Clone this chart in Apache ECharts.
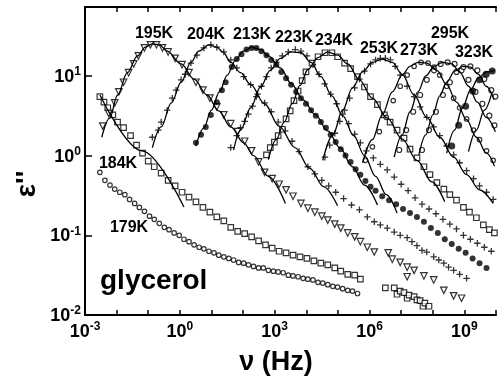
<!DOCTYPE html>
<html><head><meta charset="utf-8">
<script src="https://cdn.jsdelivr.net/npm/echarts@6/dist/echarts.min.js"></script>
<style>html,body{margin:0;padding:0;background:#fff}#c{width:499px;height:385px}</style>
</head><body><div id="c"></div>
<script>
// All values as [log10(nu / Hz), log10(eps'')]
const data179 = [[-2.53,-0.21],[-2.37,-0.31],[-2.21,-0.37],[-2.06,-0.42],[-1.90,-0.46],[-1.74,-0.49],[-1.59,-0.55],[-1.43,-0.60],[-1.28,-0.65],[-1.12,-0.70],[-0.96,-0.76],[-0.81,-0.80],[-0.65,-0.85],[-0.49,-0.90],[-0.34,-0.93],[-0.18,-0.97],[-0.02,-1.00],[0.13,-1.05],[0.29,-1.08],[0.45,-1.12],[0.61,-1.15],[0.76,-1.17],[0.92,-1.20],[1.08,-1.22],[1.23,-1.25],[1.39,-1.27],[1.55,-1.29],[1.70,-1.31],[1.86,-1.34],[2.02,-1.35],[2.17,-1.37],[2.33,-1.39],[2.49,-1.41],[2.64,-1.41],[2.80,-1.44],[2.96,-1.45],[3.11,-1.46],[3.27,-1.47],[3.43,-1.50],[3.58,-1.51],[3.74,-1.52],[3.90,-1.54],[4.05,-1.55],[4.21,-1.56],[4.37,-1.59],[4.52,-1.60],[4.68,-1.62],[4.84,-1.64],[4.99,-1.65],[5.15,-1.67],[5.31,-1.69],[5.46,-1.70],[5.62,-1.73]];

const data184 = [[-2.53,0.74],[-2.40,0.67],[-2.28,0.60],[-2.12,0.51],[-1.97,0.42],[-1.78,0.35],[-1.56,0.25],[-1.37,0.13],[-1.18,0.03],[-1.00,-0.07],[-0.81,-0.14],[-0.59,-0.22],[-0.37,-0.31],[-0.15,-0.38],[0.07,-0.46],[0.29,-0.52],[0.51,-0.58],[0.73,-0.65],[0.95,-0.71],[1.17,-0.77],[1.39,-0.82],[1.61,-0.90],[1.83,-0.95],[2.05,-0.98],[2.27,-1.02],[2.49,-1.07],[2.71,-1.12],[2.92,-1.16],[3.14,-1.20],[3.36,-1.22],[3.58,-1.25],[3.80,-1.27],[4.02,-1.29],[4.24,-1.32],[4.46,-1.35],[4.68,-1.37],[4.90,-1.41],[5.09,-1.45],[5.31,-1.49],[5.53,-1.50],[5.71,-1.55]];
const hf184 = [[6.50,-1.66],[6.78,-1.66],[6.87,-1.74],[6.97,-1.70],[7.09,-1.72],[7.19,-1.79],[7.25,-1.75],[7.41,-1.77],[7.50,-1.81],[7.60,-1.82],[7.69,-1.89],[7.75,-1.85],[7.88,-1.89]];
const fit184 = [[-2.53,0.76],[-1.20,0.06],[0.13,-0.645]];

const fit195 = [[-2.47,0.23],[-2.22,0.47],[-1.97,0.76],[-1.66,1.04],[-1.34,1.25],[-1.09,1.36],[-0.87,1.40],[-0.65,1.39],[-0.40,1.31],[0.04,1.15],[0.45,0.96],[0.86,0.76],[1.23,0.56],[1.61,0.36],[2.02,0.16],[2.33,0.00],[2.80,-0.26],[3.34,-0.60]];
const data195 = [[-2.44,0.37],[-2.25,0.53],[-2.06,0.66],[-1.93,0.80],[-1.78,0.92],[-1.62,1.04],[-1.46,1.15],[-1.31,1.25],[-1.12,1.35],[-0.93,1.39],[-0.74,1.39],[-0.55,1.35],[-0.37,1.30],[-0.15,1.22],[0.07,1.14],[0.29,1.04],[0.51,0.92],[0.73,0.82],[0.95,0.72],[1.17,0.61],[1.39,0.51],[1.61,0.40],[1.83,0.30],[2.05,0.18],[2.27,0.06],[2.49,-0.08],[2.68,-0.21],[2.92,-0.29],[3.14,-0.36],[3.36,-0.43],[3.58,-0.51],[3.83,-0.60],[4.05,-0.66],[4.27,-0.71],[4.49,-0.76],[4.68,-0.81],[4.90,-0.86],[5.09,-0.91],[5.31,-0.97],[5.53,-1.02],[5.71,-1.08],[5.93,-1.15],[6.15,-1.21]];
const hf195 = [[6.59,-1.22],[6.72,-1.30],[6.97,-1.34],[7.19,-1.40],[7.19,-1.52],[7.41,-1.44],[7.72,-1.51],[8.03,-1.56],[8.35,-1.69],[8.66,-1.76],[8.91,-1.79]];

const fit204 = [[-0.87,0.10],[-0.59,0.36],[-0.27,0.66],[0.04,0.92],[0.35,1.17],[0.60,1.31],[0.92,1.39],[1.17,1.36],[1.36,1.30],[1.61,1.17],[1.92,1.04],[2.24,0.89],[2.68,0.65],[3.14,0.37],[3.64,0.10],[4.11,-0.16],[4.55,-0.39],[4.99,-0.63]];
const data204 = [[-0.87,0.23],[-0.68,0.32],[-0.59,0.42],[-0.40,0.57],[-0.24,0.72],[-0.12,0.82],[0.04,0.95],[0.17,1.02],[0.35,1.16],[0.54,1.26],[0.76,1.35],[0.98,1.39],[1.17,1.36],[1.39,1.30],[1.61,1.20],[1.80,1.10],[2.02,0.99],[2.24,0.89],[2.46,0.77],[2.68,0.66],[2.89,0.55],[3.11,0.42],[3.33,0.31],[3.55,0.18],[3.77,0.05],[4.05,-0.14],[4.27,-0.23],[4.49,-0.31],[4.71,-0.38],[4.93,-0.46],[5.18,-0.54],[5.43,-0.62],[5.68,-0.68],[5.93,-0.77]];
const hf204 = [[6.15,-0.83],[6.34,-0.87],[6.56,-0.91],[6.78,-0.96],[6.97,-1.00],[7.19,-1.03],[7.34,-1.08],[7.50,-1.13],[7.66,-1.19],[7.81,-1.21],[8.03,-1.27],[8.19,-1.31],[8.35,-1.35],[8.50,-1.40],[8.66,-1.44],[8.85,-1.49],[9.07,-1.54]];

const fit213 = [[0.51,0.12],[0.75,0.34],[1.00,0.57],[1.25,0.80],[1.50,1.01],[1.75,1.19],[2.00,1.31],[2.28,1.36],[2.55,1.33],[2.80,1.25],[3.18,1.10],[3.53,0.90],[3.90,0.70],[4.27,0.52],[4.68,0.31],[5.06,0.10],[5.46,-0.14],[5.84,-0.37],[6.25,-0.62]];
const data213 = [[0.51,0.16],[0.67,0.26],[0.82,0.36],[0.98,0.51],[1.17,0.67],[1.33,0.82],[1.45,0.92],[1.64,1.11],[1.80,1.21],[1.95,1.27],[2.11,1.33],[2.27,1.35],[2.42,1.35],[2.58,1.31],[2.74,1.26],[2.89,1.20],[3.05,1.14],[3.21,1.05],[3.36,0.97],[3.52,0.89],[3.68,0.80],[3.83,0.72],[3.99,0.65],[4.15,0.57],[4.30,0.50],[4.46,0.42],[4.62,0.35],[4.77,0.26],[4.93,0.17],[5.09,0.08],[5.24,0.00],[5.40,-0.08],[5.56,-0.17],[5.71,-0.24],[5.87,-0.32],[6.03,-0.39],[6.19,-0.44],[6.40,-0.51],[6.62,-0.56],[6.84,-0.61],[7.06,-0.67],[7.28,-0.72],[7.50,-0.77],[7.72,-0.83],[7.94,-0.91],[8.16,-0.97],[8.38,-1.05],[8.60,-1.11],[8.82,-1.17],[9.04,-1.22],[9.26,-1.29],[9.48,-1.35],[9.70,-1.41]];

const fit223 = [[1.70,0.07],[1.92,0.32],[2.24,0.60],[2.55,0.86],[2.86,1.07],[3.18,1.22],[3.52,1.30],[3.83,1.29],[4.15,1.17],[4.46,0.99],[4.81,0.75],[5.15,0.50],[5.50,0.25],[5.84,0.00],[6.19,-0.26],[6.53,-0.49],[6.87,-0.72]];
const data223 = [[1.61,0.10],[1.80,0.25],[1.92,0.35],[2.05,0.43],[2.17,0.52],[2.30,0.62],[2.42,0.74],[2.58,0.87],[2.74,0.99],[2.89,1.10],[3.05,1.17],[3.24,1.25],[3.43,1.30],[3.65,1.33],[3.83,1.31],[4.02,1.25],[4.21,1.14],[4.40,1.02],[4.58,0.90],[4.77,0.77],[4.96,0.65],[5.15,0.52],[5.34,0.40],[5.53,0.27],[5.71,0.16],[5.90,0.06],[6.12,-0.03],[6.34,-0.11],[6.56,-0.18],[6.78,-0.27],[7.00,-0.36],[7.22,-0.44],[7.44,-0.53],[7.66,-0.61],[7.88,-0.67],[8.10,-0.73],[8.32,-0.80],[8.54,-0.86],[8.75,-0.92],[8.97,-1.00],[9.19,-1.05],[9.41,-1.10],[9.63,-1.15],[9.85,-1.20]];

const fit234 = [[2.80,-0.05],[3.05,0.20],[3.30,0.42],[3.55,0.65],[3.80,0.88],[4.05,1.08],[4.37,1.23],[4.68,1.30],[4.99,1.26],[5.31,1.15],[5.68,0.95],[6.09,0.72],[6.56,0.47],[7.03,0.21],[7.50,-0.06],[7.97,-0.33],[8.38,-0.58]];
const data234 = [[2.74,0.01],[2.86,0.10],[2.99,0.17],[3.11,0.25],[3.24,0.33],[3.36,0.46],[3.49,0.56],[3.61,0.69],[3.74,0.81],[3.87,0.94],[3.99,1.05],[4.18,1.16],[4.37,1.24],[4.59,1.29],[4.81,1.29],[4.99,1.24],[5.21,1.16],[5.40,1.09],[5.62,0.99],[5.84,0.86],[6.03,0.74],[6.25,0.64],[6.47,0.51],[6.65,0.42],[6.87,0.32],[7.09,0.22],[7.28,0.08],[7.50,-0.03],[7.72,-0.14],[7.91,-0.24],[8.13,-0.34],[8.35,-0.42],[8.54,-0.49],[8.75,-0.56],[8.97,-0.65],[9.16,-0.71],[9.38,-0.78],[9.60,-0.87],[9.79,-0.93],[9.95,-0.97]];

const fit253 = [[4.52,-0.06],[4.84,0.26],[5.15,0.57],[5.46,0.85],[5.78,1.05],[6.09,1.17],[6.40,1.21],[6.72,1.17],[7.03,1.02],[7.41,0.76],[7.81,0.48],[8.22,0.23],[8.66,-0.02],[9.07,-0.24],[9.48,-0.43],[9.91,-0.60]];
const data253 = [[4.59,-0.02],[4.74,0.13],[4.90,0.28],[5.06,0.43],[5.21,0.57],[5.37,0.72],[5.53,0.85],[5.68,0.96],[5.84,1.06],[6.03,1.15],[6.19,1.20],[6.34,1.22],[6.50,1.22],[6.66,1.20],[6.81,1.12],[6.97,1.01],[7.19,0.87],[7.41,0.74],[7.60,0.61],[7.81,0.48],[8.03,0.36],[8.22,0.25],[8.44,0.12],[8.66,0.01],[8.85,-0.09],[9.07,-0.19],[9.29,-0.29],[9.48,-0.38],[9.70,-0.46],[9.91,-0.55]];

const fit273 = [[5.78,-0.09],[6.09,0.20],[6.40,0.51],[6.72,0.80],[7.03,1.01],[7.28,1.12],[7.53,1.17],[7.81,1.16],[8.13,1.07],[8.44,0.89],[8.75,0.67],[9.07,0.45],[9.38,0.23],[9.70,0.03],[9.95,-0.13]];
const data273 = [[5.87,-0.06],[6.09,0.11],[6.31,0.30],[6.53,0.48],[6.75,0.69],[6.97,0.87],[7.19,1.01],[7.41,1.12],[7.63,1.17],[7.85,1.16],[8.04,1.11],[8.22,1.01],[8.44,0.87],[8.66,0.72],[8.85,0.60],[9.07,0.46],[9.29,0.32],[9.48,0.20],[9.70,0.06],[9.91,-0.06]];

const fit295 = [[6.78,-0.02],[7.03,0.26],[7.28,0.55],[7.53,0.80],[7.78,1.00],[8.04,1.12],[8.32,1.17],[8.60,1.15],[8.85,1.05],[9.13,0.87],[9.41,0.67],[9.69,0.48],[9.98,0.30]];
const data295 = [[6.94,0.07],[7.16,0.32],[7.38,0.55],[7.60,0.76],[7.81,0.95],[8.04,1.07],[8.25,1.15],[8.47,1.17],[8.69,1.15],[8.91,1.07],[9.13,0.95],[9.35,0.80],[9.57,0.65],[9.79,0.50],[9.95,0.38]];

const fit323 = [[7.56,0.01],[7.78,0.26],[8.00,0.51],[8.22,0.75],[8.44,0.92],[8.69,1.06],[8.94,1.12],[9.19,1.11],[9.44,1.02],[9.69,0.87],[9.94,0.70]];
const data323 = [[7.66,0.07],[7.88,0.32],[8.10,0.55],[8.32,0.76],[8.54,0.92],[8.75,1.05],[8.97,1.11],[9.19,1.12],[9.41,1.07],[9.63,0.96],[9.85,0.82],[9.98,0.74]];

const fitHotA = [[8.44,0.03],[8.69,0.32],[8.94,0.60],[9.19,0.82],[9.44,0.97],[9.69,1.05],[9.95,1.07]];
const dataHotA = [[8.60,0.12],[8.82,0.38],[9.04,0.62],[9.26,0.81],[9.48,0.95],[9.69,1.02],[9.88,1.06]];
const fitHotB = [[9.13,0.05],[9.38,0.32],[9.63,0.57],[9.88,0.80]];

// tick exponents shown as labels
const xLabelExps = [-3, 0, 3, 6, 9];
const yLabelExps = [-2, -1, 0, 1];
const tempLabels = ['195K','204K','213K','223K','234K','253K','273K','295K','323K','184K','179K'];

// ---------- rendering ----------
const FONT = '"Liberation Sans", Arial, Helvetica, sans-serif';
const toLin = a => a.map(p => [Math.pow(10, p[0]), Math.pow(10, p[1])]);
const PLUS = 'path://M4,0h2v4h4v2h-4v4h-2v-4h-4v-2h4z';

function fitLine(pts) {
  return {type:'line', data: toLin(pts), showSymbol:false, smooth:0.35, smoothMonotone:'x',
    lineStyle:{color:'#000', width:1.3}, z:4, silent:true};
}
function marks(pts, symbol, size, filled, rotate) {
  return {type:'scatter', data: toLin(pts), symbol: symbol, symbolSize: size, symbolRotate: rotate || 0,
    itemStyle: filled ? {color:'#000', borderWidth:0} : {color:'#fff', borderColor:'#000', borderWidth:1.2},
    z:3, silent:true};
}

const series = [
  marks(data179, 'circle', 4.5, false),
  marks(data184, 'rect', 5.5, false), marks(hf184, 'rect', 5.5, false), fitLine(fit184),
  marks(data195, 'triangle', 6.5, false, 180), marks(hf195, 'triangle', 6.5, false, 180), fitLine(fit195),
  marks(data204, PLUS, 6.5, true), marks(hf204, PLUS, 6.5, true), fitLine(fit204),
  marks(data213, 'circle', 6, true), fitLine(fit213),
  marks(data223, PLUS, 6.5, true), fitLine(fit223),
  marks(data234, 'rect', 5.5, false), fitLine(fit234),
  marks(data253, PLUS, 6.5, true), fitLine(fit253),
  marks(data273, 'circle', 4.5, false), fitLine(fit273),
  marks(data295, 'circle', 5, false), fitLine(fit295),
  marks(data323, 'circle', 5, false), fitLine(fit323),
  marks(dataHotA, 'circle', 7, true), fitLine(fitHotA), fitLine(fitHotB)
];

function expFmt(allowed) {
  return function (v) {
    const l = Math.log10(v), e = Math.round(l);
    if (Math.abs(l - e) > 1e-4 || allowed.indexOf(e) < 0) return '';
    return '{b|10}{s|' + e + '}';
  };
}
const rich = {
  b: {fontFamily: FONT, fontWeight:'bold', fontSize:18, lineHeight:20, color:'#000', verticalAlign:'bottom'},
  s: {fontFamily: FONT, fontWeight:'bold', fontSize:12, lineHeight:12, color:'#000', verticalAlign:'top'}
};
const axLine = {show:true, onZero:false, lineStyle:{color:'#000', width:2}};

const labelPos = [[154,34],[206,35],[252,35],[294,37.5],[334,41],[379,49],[419,51],[450,34],[474,52.5],[118,164],[129,227.5]];
const graphics = tempLabels.map((t, i) => ({type:'text', x: labelPos[i][0], y: labelPos[i][1], z: 10, silent:true,
  style:{text:t, font:'bold 16px ' + FONT, fill:'#000', align:'center', verticalAlign:'middle'}}));
graphics.push({type:'text', x:100, y:281, z:10, silent:true,
  style:{text:'glycerol', font:'bold 28px ' + FONT, fill:'#000', align:'left', verticalAlign:'middle'}});
graphics.push({type:'text', x:27, y:184, rotation: Math.PI/2, z:10, silent:true,
  style:{text:"\u03b5''", font:'bold 28px ' + FONT, fill:'#000', align:'center', verticalAlign:'middle'}});
graphics.push({type:'text', x:276, y:363, z:10, silent:true,
  style:{text:'\u03bd (Hz)', font:'bold 27px ' + FONT, fill:'#000', align:'center', verticalAlign:'middle'}});

const chart = echarts.init(document.getElementById('c'), null, {renderer:'canvas'});
chart.setOption({
  animation:false,
  backgroundColor:'#fff',
  grid:{left:85, top:7, right:-1, bottom:70, containLabel:false},
  xAxis:[
    {type:'log', logBase:10, min:1e-3, max:1e10, interval:1, position:'bottom',
     axisLine:axLine, axisTick:{show:true, inside:true, length:5, lineStyle:{color:'#000', width:1.5}},
     axisLabel:{show:true, margin:6, formatter: expFmt(xLabelExps), rich: rich},
     splitLine:{show:false}, minorTick:{show:false}},
    {type:'log', logBase:10, min:1e-3, max:1e10, interval:1, position:'top',
     axisLine:axLine, axisTick:{show:true, inside:true, length:5, lineStyle:{color:'#000', width:1.5}},
     axisLabel:{show:false}, splitLine:{show:false}}
  ],
  yAxis:{type:'log', logBase:10, min:0.01, max:73.1, interval:1,
     axisLine:axLine, axisTick:{show:true, inside:true, length:7, lineStyle:{color:'#000', width:1.5}},
     axisLabel:{show:true, margin:4, formatter: expFmt(yLabelExps), rich: rich},
     splitLine:{show:false}},
  series: series,
  graphic: graphics
});
</script>
</body></html>
